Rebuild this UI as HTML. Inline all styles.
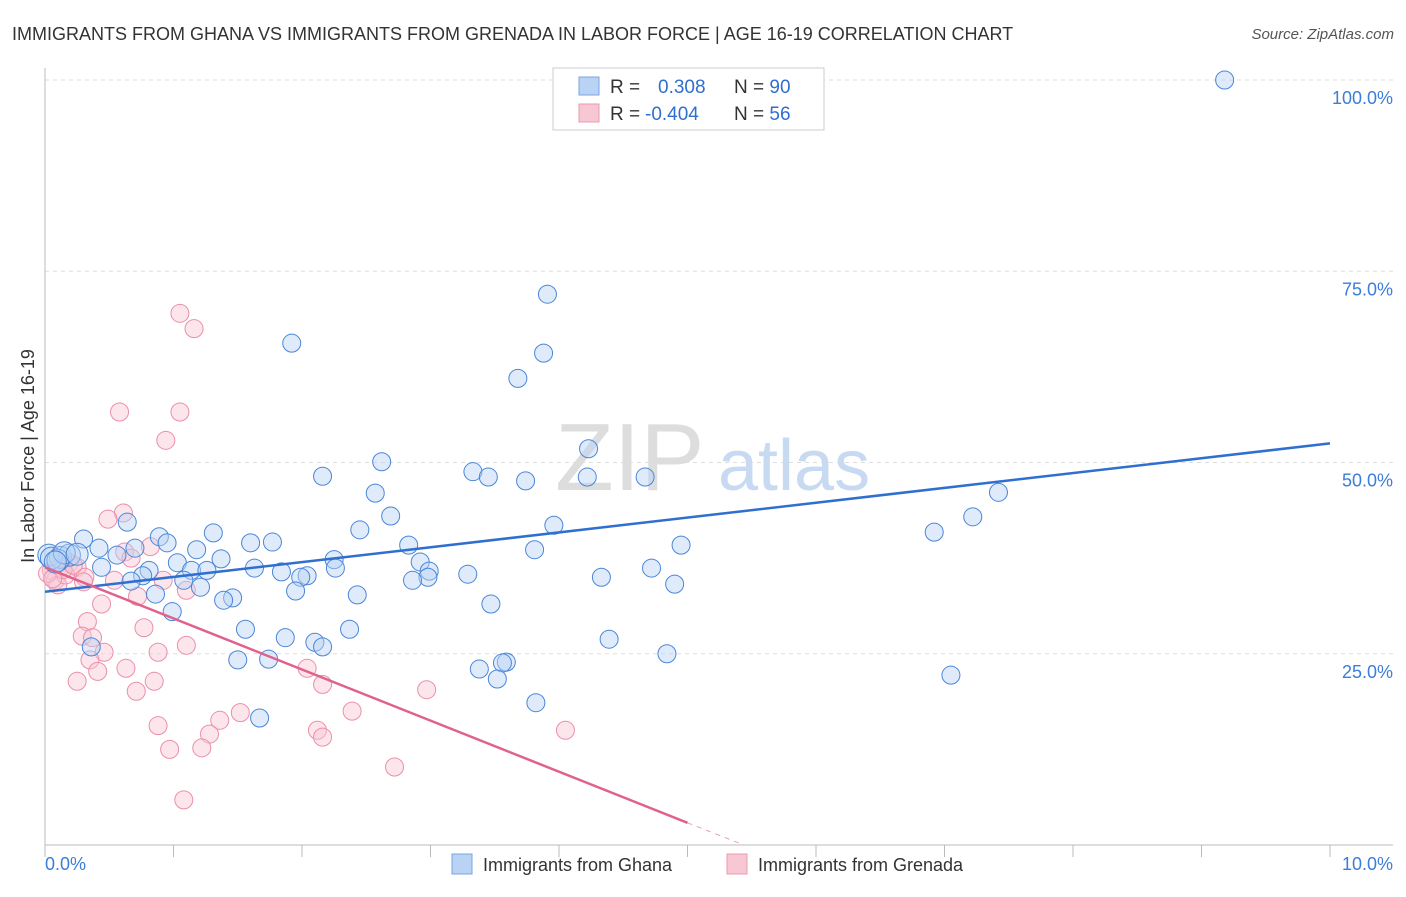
<!DOCTYPE html>
<html><head><meta charset="utf-8"><style>
body{margin:0;background:#fff;font-family:"Liberation Sans",sans-serif}
svg text{font-family:"Liberation Sans",sans-serif}
</style></head><body>
<svg width="1406" height="892" viewBox="0 0 1406 892">
<text x="12" y="40" font-size="18" fill="#333">IMMIGRANTS FROM GHANA VS IMMIGRANTS FROM GRENADA IN LABOR FORCE | AGE 16-19 CORRELATION CHART</text>
<text x="1394" y="39" font-size="15" fill="#555" font-style="italic" text-anchor="end">Source: ZipAtlas.com</text>
<g id="grid"></g>
<text x="555" y="490" font-size="96" fill="#ddd" font-family="Liberation Serif">ZIP</text>
<text x="718" y="490" font-size="72" fill="#c8daf2">atlas</text>
<g id="axes"></g>
<g id="pts"></g>
<g id="trends"></g>
<text transform="translate(34,456) rotate(-90)" font-size="18" fill="#333" text-anchor="middle">In Labor Force | Age 16-19</text>
<text x="45" y="870" font-size="18" fill="#3b7dd8">0.0%</text>
<text x="1393" y="870" font-size="18" fill="#3b7dd8" text-anchor="end">10.0%</text>
<g>
<rect x="553" y="68" width="271" height="62" fill="#fff" stroke="#ccc"/>
<rect x="579" y="77" width="20" height="18" fill="#b8d3f3" stroke="#7aa6e0"/>
<rect x="579" y="104" width="20" height="18" fill="#f8c7d4" stroke="#eb9ab0"/>
<text x="610" y="93" font-size="19" fill="#333">R = <tspan fill="#2f6fd0" x="658">0.308</tspan><tspan fill="#333" x="734">N = </tspan><tspan fill="#2f6fd0">90</tspan></text>
<text x="610" y="120" font-size="19" fill="#333">R = <tspan fill="#2f6fd0" x="645">-0.404</tspan><tspan fill="#333" x="734">N = </tspan><tspan fill="#2f6fd0">56</tspan></text>
</g>
<g><rect x="452" y="854" width="20" height="20" fill="#b8d3f3" stroke="#7aa6e0"/><text x="483" y="871" font-size="18" fill="#333">Immigrants from Ghana</text></g>
<g><rect x="727" y="854" width="20" height="20" fill="#f8c7d4" stroke="#eb9ab0"/><text x="758" y="871" font-size="18" fill="#333">Immigrants from Grenada</text></g>
</svg>
<script>
const yTicks=[25,50,75,100];
const yTickLabels=["25.0%","50.0%","75.0%","100.0%"];
const ghanaX=[9.18,3.91,1.92,3.88,3.68,4.23,2.62,3.33,2.16,3.45,4.22,4.67,3.74,2.57,7.42,2.69,7.22,0.64,3.96,2.45,6.92,1.31,0.30,0.89,0.95,1.60,1.77,2.83,4.95,0.42,0.70,1.18,3.81,0.03,0.12,0.19,0.56,1.37,2.25,2.92,1.03,0.44,1.63,2.26,4.72,0.81,1.14,1.26,2.99,1.84,2.04,3.29,0.76,1.99,2.98,4.33,0.67,1.08,2.86,4.90,1.21,1.95,0.86,1.46,2.43,1.39,3.47,0.99,1.56,2.37,4.39,1.87,2.10,2.16,0.36,1.74,1.50,4.84,3.59,3.56,3.38,7.05,3.52,3.82,1.67,0.05,0.10,0.15,0.25,0.08];
const ghanaY=[100,72.0,65.6,64.3,61.0,51.8,50.1,48.8,48.2,48.1,48.1,48.1,47.6,46.0,46.1,43.0,42.9,42.2,41.8,41.2,40.9,40.8,40.0,40.3,39.5,39.5,39.6,39.2,39.2,38.8,38.8,38.6,38.6,37.9,37.6,37.9,37.9,37.4,37.3,37.0,36.9,36.3,36.2,36.2,36.2,35.9,35.9,35.9,35.8,35.7,35.2,35.4,35.2,35.0,35.0,35.0,34.5,34.6,34.6,34.1,33.7,33.2,32.8,32.3,32.7,32.0,31.5,30.5,28.2,28.2,26.9,27.1,26.5,25.9,25.9,24.3,24.2,25.0,23.9,23.8,23.0,22.2,21.7,18.6,16.6,37.5,37.2,38.2,38.0,37.0];
const grenadaX=[1.05,1.16,0.58,1.05,0.94,0.61,0.49,0.82,0.62,0.67,0.19,0.12,0.25,0.05,0.31,0.08,0.54,0.92,0.10,0.72,1.10,0.44,0.77,0.33,0.29,0.37,1.10,0.46,0.88,0.35,0.63,2.04,0.41,0.85,0.25,2.16,0.71,2.97,1.52,2.39,1.36,0.88,2.12,4.05,1.28,2.16,0.97,1.22,2.72,1.08,0.30,0.16,0.02,0.14,0.22,0.06];
const grenadaY=[69.5,67.5,56.6,56.6,52.9,43.4,42.6,39.0,38.3,37.5,36.9,36.3,36.3,35.9,35.0,34.6,34.6,34.6,34.0,32.5,33.3,31.5,28.4,29.2,27.3,27.1,26.1,25.2,25.2,24.2,23.1,23.1,22.7,21.4,21.4,21.0,20.1,20.3,17.3,17.5,16.3,15.6,15.0,15.0,14.5,14.1,12.5,12.7,10.2,5.9,34.4,35.3,35.5,36.0,36.6,34.8];
const ghanaTrend=[[0,33.1],[10,52.5]];
const grenadaTrend=[[0,36.3],[5.0,2.9]];
const grenadaDash=[[5.0,2.9],[5.44,0]];
const NS="http://www.w3.org/2000/svg";
const X=v=>45+v*128.5, Y=v=>845-v*7.65;
function mk(t,a,p){const e=document.createElementNS(NS,t);for(const k in a)e.setAttribute(k,a[k]);p.appendChild(e);return e;}
const grid=document.getElementById('grid'),axes=document.getElementById('axes'),pts=document.getElementById('pts'),tr=document.getElementById('trends');
yTicks.forEach((t,i)=>{
 const l=mk('line',{x1:45,x2:1393,y1:Y(t),y2:Y(t),stroke:'#ddd','stroke-dasharray':'4,4'},grid);
 
 
 const tx=mk('text',{x:1393,y:Y(t)+24,'font-size':18,fill:'#3b7dd8','text-anchor':'end'},grid);
 tx.textContent=yTickLabels[i];
 
 
});
let a=mk('line',{x1:45,x2:45,y1:68,y2:845,stroke:'#bbb'},axes);


a=mk('line',{x1:45,x2:1393,y1:845,y2:845,stroke:'#bbb'},axes);


for(let i=0;i<=10;i++){const t=mk('line',{x1:X(i),x2:X(i),y1:845,y2:857,stroke:'#bbb'},axes);
 
 }
function dots(xs,ys,fill,stroke,name){xs.forEach((x,i)=>{const c=mk('circle',{cx:X(x),cy:Y(ys[i]),r:(x<0.3&&name==='ghana-point')?11:9,fill:fill,'fill-opacity':0.45,stroke:stroke,'stroke-width':1},pts);
 
 });}
dots(grenadaX,grenadaY,'#f8c7d4','#eb8fa9','grenada-point');
dots(ghanaX,ghanaY,'#b8d3f3','#4a86d8','ghana-point');
function ln(p,col,nm,dash){const l=mk('line',{x1:X(p[0][0]),y1:Y(p[0][1]),x2:X(p[1][0]),y2:Y(p[1][1]),stroke:col,'stroke-width':dash?1:2.5},tr);
 if(dash)l.setAttribute('stroke-dasharray','5,5');
 
 }
ln(ghanaTrend,'#2f6fd0','ghana-trend-line');
ln(grenadaTrend,'#e0628c','grenada-trend-line');
ln(grenadaDash,'#e8a0b8','grenada-trend-extension',true);
</script>
</body></html>
